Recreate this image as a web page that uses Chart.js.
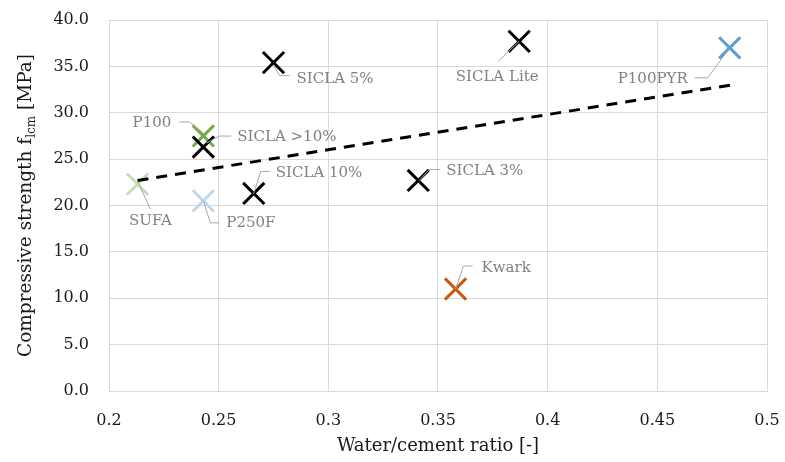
<!DOCTYPE html>
<html>
<head>
<meta charset="utf-8">
<script src="https://cdn.jsdelivr.net/npm/chart.js@4/dist/chart.umd.min.js"></script>
<style>
html,body{margin:0;padding:0;background:#fff;}
#wrap{width:785px;height:462px;position:relative;}
</style>
</head>
<body>
<div id="wrap"><canvas id="c" width="785" height="462"></canvas></div>
<script>
// ---- data ----
const names    = ['SICLA 5%', 'SICLA Lite', 'SICLA >10%', 'SICLA 10%', 'SICLA 3%', 'P100', 'SUFA', 'P250F', 'P100PYR', 'Kwark'];
const wcRatio  = [0.275, 0.387, 0.243, 0.266, 0.341, 0.243, 0.213, 0.243, 0.483, 0.358];
const strength = [35.4, 37.7, 26.3, 21.3, 22.7, 27.5, 22.3, 20.5, 37.0, 11.0];
const groups   = ['SICLA', 'SICLA', 'SICLA', 'SICLA', 'SICLA', 'P100', 'SUFA', 'P250F', 'P100PYR', 'Kwark'];
const trendX   = [0.213, 0.484];
const trendY   = [22.7, 33.0];
const xTicks   = [0.2, 0.25, 0.3, 0.35, 0.4, 0.45, 0.5];
const yTicks   = [0, 5, 10, 15, 20, 25, 30, 35, 40];

// ---- styles (kept apart from data) ----
const groupColors = {SICLA:'#000000', P100:'#70ad47', SUFA:'#c5e0b4', P250F:'#bdd7ee', P100PYR:'#5b9bd5', Kwark:'#c55a11'};
const drawOrder = ['SICLA', 'P100', 'SUFA', 'P250F', 'P100PYR', 'Kwark'];
// label placement relative to the point's pixel: text anchor, alignment, leader path
const labelLayout = [
  {dx:23,  dy:16,  align:'left',   leader:[[0,2],[6,13],[16,13]]},
  {dx:-22, dy:36,  align:'center', leader:[[0,0],[-21,20]]},
  {dx:34,  dy:-10, align:'left',   leader:[[3,-4],[16,-11],[28,-11]]},
  {dx:22,  dy:-20, align:'left',   leader:[[0,0],[7,-22],[16,-22]]},
  {dx:28,  dy:-9,  align:'left',   leader:[[1,0],[11,-11],[22,-11]]},
  {dx:-32, dy:-13, align:'right',  leader:[[-24,-14],[-14,-14],[0,-3]]},
  {dx:13,  dy:37,  align:'center', leader:[[0,-3],[13,25]]},
  {dx:23,  dy:22,  align:'left',   leader:[[0,0],[7,22],[16,22]]},
  {dx:-42, dy:31,  align:'right',  leader:[[0,0],[-22,30],[-35,30]]},
  {dx:26,  dy:-21, align:'left',   leader:[[0,0],[8,-23],[17,-23]]}
];

const FONT = '"DejaVu Serif", serif';

const datasets = [];
datasets.push({
  label: 'Trend',
  data: trendX.map((x, i) => ({x: x, y: trendY[i]})),
  showLine: true,
  borderColor: '#000',
  borderWidth: 3,
  borderDash: [11, 8],
  pointRadius: 0,
  fill: false,
  order: 0
});
drawOrder.forEach((g, gi) => {
  const pts = [];
  groups.forEach((gg, i) => { if (gg === g) pts.push({x: wcRatio[i], y: strength[i], idx: i}); });
  datasets.push({
    label: g,
    data: pts,
    pointStyle: 'crossRot',
    pointRadius: 15,
    pointHoverRadius: 15,
    borderColor: groupColors[g],
    backgroundColor: groupColors[g],
    pointBorderWidth: 3,
    borderWidth: 3,
    order: 1 + (g === 'P100' ? 10 : gi)
  });
});

const labelPlugin = {
  id: 'labels',
  afterDatasetsDraw(chart) {
    const ctx = chart.ctx;
    const xs = chart.scales.x, ys = chart.scales.y;
    ctx.save();
    names.forEach((n, i) => {
      const px = xs.getPixelForValue(wcRatio[i]);
      const py = ys.getPixelForValue(strength[i]);
      const L = labelLayout[i];
      ctx.strokeStyle = '#a6a6a6';
      ctx.lineWidth = 1;
      ctx.beginPath();
      L.leader.forEach((p, k) => {
        if (k === 0) ctx.moveTo(px + p[0], py + p[1]); else ctx.lineTo(px + p[0], py + p[1]);
      });
      ctx.stroke();
      ctx.fillStyle = '#808080';
      ctx.font = '15px ' + FONT;
      ctx.textAlign = L.align;
      ctx.textBaseline = 'middle';
      ctx.fillText(n, px + L.dx, py + L.dy);
    });
    ctx.restore();
  },
  afterDraw(chart) {
    const ctx = chart.ctx;
    const area = chart.chartArea;
    ctx.save();
    ctx.fillStyle = '#1a1a1a';
    // x title
    ctx.font = '18px ' + FONT;
    ctx.textAlign = 'center';
    ctx.textBaseline = 'middle';
    ctx.fillText('Water/cement ratio [-]', (area.left + area.right) / 2, 446);
    // y title with subscript
    const p1 = 'Compressive strength f', sub = 'lcm', p2 = ' [MPa]';
    const big = '18.5px ' + FONT, small = '12px ' + FONT;
    ctx.font = big; const w1 = ctx.measureText(p1).width, w3 = ctx.measureText(p2).width;
    ctx.font = small; const w2 = ctx.measureText(sub).width;
    const total = w1 + w2 + w3;
    ctx.translate(25, (area.top + area.bottom) / 2);
    ctx.rotate(-Math.PI / 2);
    ctx.textAlign = 'left';
    ctx.textBaseline = 'alphabetic';
    let x0 = -total / 2;
    const base = 6;
    ctx.font = big; ctx.fillText(p1, x0, base); x0 += w1;
    ctx.font = small; ctx.fillText(sub, x0, base + 4); x0 += w2;
    ctx.font = big; ctx.fillText(p2, x0, base);
    ctx.restore();
  }
};

new Chart(document.getElementById('c'), {
  type: 'scatter',
  data: {datasets: datasets},
  options: {
    responsive: false,
    animation: false,
    events: [],
    layout: {padding: {top: 20, right: 17, left: 0, bottom: 0}},
    plugins: {legend: {display: false}, tooltip: {enabled: false}},
    scales: {
      x: {
        type: 'linear',
        min: xTicks[0], max: xTicks[xTicks.length - 1],
        afterBuildTicks(scale) { scale.ticks = xTicks.map(v => ({value: v})); },
        afterFit(scale) { scale.height = 71; scale.paddingLeft = 0; scale.paddingRight = 0; },
        grid: {color: '#d9d9d9', lineWidth: 1, drawTicks: false},
        border: {color: '#d9d9d9', width: 1},
        ticks: {
          padding: 20,
          color: '#1a1a1a',
          font: {family: FONT, size: 16},
          maxRotation: 0,
          callback: v => String(Number(v.toFixed(2)))
        }
      },
      y: {
        type: 'linear',
        min: yTicks[0], max: yTicks[yTicks.length - 1],
        afterBuildTicks(scale) { scale.ticks = yTicks.map(v => ({value: v})); },
        afterFit(scale) { scale.width = 109; scale.paddingTop = 0; scale.paddingBottom = 0; },
        grid: {color: '#d9d9d9', lineWidth: 1, drawTicks: false},
        border: {color: '#d9d9d9', width: 1},
        ticks: {
          padding: 20,
          color: '#1a1a1a',
          font: {family: FONT, size: 16},
          callback: v => v.toFixed(1)
        }
      }
    }
  },
  plugins: [labelPlugin]
});
</script>
</body>
</html>
